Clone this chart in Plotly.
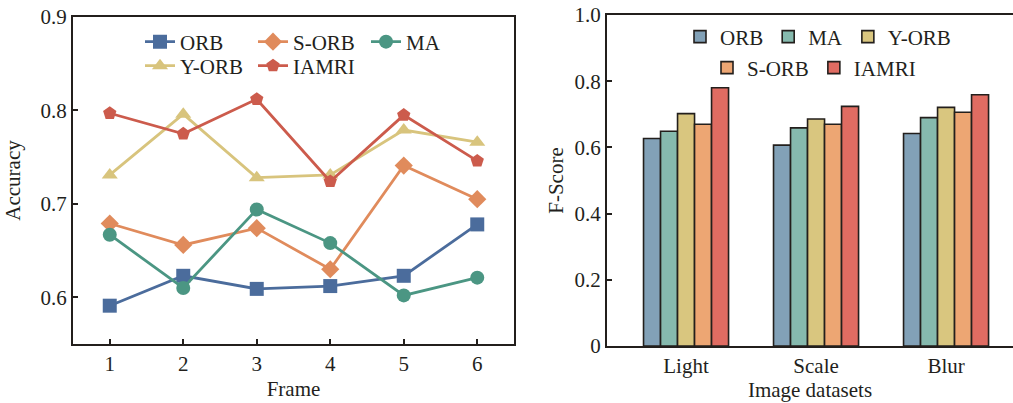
import plotly.graph_objects as go

# ---- data: left line chart ----
frames = [1, 2, 3, 4, 5, 6]
acc_orb = [0.591, 0.623, 0.609, 0.612, 0.623, 0.678]
acc_sorb = [0.679, 0.656, 0.674, 0.630, 0.741, 0.705]
acc_ma = [0.667, 0.610, 0.694, 0.658, 0.602, 0.621]
acc_yorb = [0.731, 0.796, 0.728, 0.731, 0.779, 0.766]
acc_iamri = [0.797, 0.775, 0.812, 0.724, 0.795, 0.746]

# ---- data: right bar chart ----
datasets = ["Light", "Scale", "Blur"]
f_orb = [0.627, 0.607, 0.642]
f_ma = [0.649, 0.659, 0.690]
f_yorb = [0.702, 0.686, 0.721]
f_sorb = [0.670, 0.670, 0.706]
f_iamri = [0.780, 0.724, 0.759]
f_ticks = [0, 0.2, 0.4, 0.6, 0.8, 1.0]
f_ticktext = ["0", "0.2", "0.4", "0.6", "0.8", "1.0"]

W, H = 1013, 403
FONT = "Liberation Serif"
INK = "#231f1c"

fig = go.Figure()

line_series = [
    ("ORB", acc_orb, "#4b6c9c", "square", "legend"),
    ("S-ORB", acc_sorb, "#e08b5c", "diamond", "legend"),
    ("MA", acc_ma, "#4b9683", "circle", "legend"),
    ("Y-ORB", acc_yorb, "#d8c47d", "triangle-up", "legend2"),
    ("IAMRI", acc_iamri, "#cc5b4c", "pentagon", "legend2"),
]
for name, vals, col, sym, lg in line_series:
    fig.add_trace(go.Scatter(
        x=frames, y=vals, name=name, mode="lines+markers",
        line=dict(color=col, width=2.8),
        marker=dict(symbol=sym, size=14, color=col),
        xaxis="x", yaxis="y", legend=lg,
    ))

bar_series = [
    ("ORB", f_orb, "#82a1b7", "legend3"),
    ("MA", f_ma, "#86baae", "legend3"),
    ("Y-ORB", f_yorb, "#d9c67f", "legend3"),
    ("S-ORB", f_sorb, "#eda673", "legend4"),
    ("IAMRI", f_iamri, "#e06c62", "legend4"),
]
for name, vals, col, lg in bar_series:
    fig.add_trace(go.Bar(
        x=datasets, y=vals, name=name,
        marker=dict(color=col, line=dict(color=INK, width=1.6)),
        xaxis="x2", yaxis="y2", legend=lg,
    ))

def px_x(p):
    return p / W

def px_y(p):
    return 1 - p / H

axis_common = dict(
    showline=True, linecolor=INK, linewidth=2,
    ticks="inside", ticklen=5, tickwidth=1.5, tickcolor=INK,
    showgrid=False, zeroline=False, automargin=False,
    tickfont=dict(family=FONT, size=21, color=INK),
    title_font=dict(family=FONT, size=21, color=INK),
)

leg_common = dict(
    orientation="h", font=dict(family=FONT, size=21, color=INK),
    bgcolor="rgba(0,0,0,0)", yanchor="middle",
    tracegroupgap=0, itemwidth=30,
)

fig.update_layout(
    width=W, height=H,
    margin=dict(l=0, r=0, t=0, b=0, pad=0),
    paper_bgcolor="white", plot_bgcolor="white",
    showlegend=True,
    bargap=0.346, bargroupgap=0,
    xaxis=dict(
        domain=[px_x(73), px_x(514)], range=[0.5, 6.5],
        tickvals=frames, mirror=True, anchor="y",
        title=dict(text="Frame", standoff=6),
        **axis_common,
    ),
    yaxis=dict(
        domain=[px_y(344), px_y(17)], range=[0.55, 0.9],
        tickvals=[0.6, 0.7, 0.8, 0.9], tickformat=".1f", mirror=True, anchor="x",
        title=dict(text="Accuracy", standoff=14),
        **axis_common,
    ),
    xaxis2=dict(
        domain=[px_x(607), 1.0], range=[-0.608, 2.515], anchor="y2",
        mirror=True,
        title=dict(text="Image datasets", standoff=4),
        **{**axis_common, "ticks": ""},
    ),
    yaxis2=dict(
        domain=[px_y(346), px_y(15)], range=[0, 1.0], anchor="x2",
        tickvals=f_ticks, ticktext=f_ticktext,
        title=dict(text="F-Score", standoff=5),
        **axis_common,
    ),
    legend=dict(x=px_x(140), y=px_y(42), xanchor="left", entrywidth=68, entrywidthmode="pixels", **leg_common),
    legend2=dict(x=px_x(140), y=px_y(66), xanchor="left", entrywidth=68, entrywidthmode="pixels", **leg_common),
    legend3=dict(x=px_x(818), y=px_y(37), xanchor="center", **leg_common),
    legend4=dict(x=px_x(814), y=px_y(68), xanchor="center", **leg_common),
)

fig.write_html("out.html", config={"displayModeBar": False},
               post_script="document.body.style.margin='0';")
